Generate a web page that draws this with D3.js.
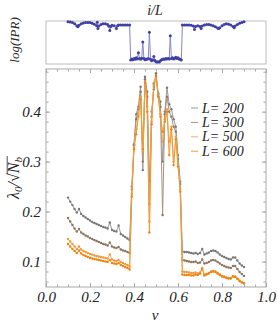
<!DOCTYPE html>
<html>
<head>
<meta charset="utf-8">
<script src="https://cdnjs.cloudflare.com/ajax/libs/d3/7.8.5/d3.min.js"></script>
<style>
  body { margin: 0; background: #fff; }
  svg text { font-family: "Liberation Serif", "DejaVu Serif", serif; font-style: italic; fill: #222; }
</style>
</head>
<body>
<svg width="278" height="326"></svg>
<script>
// filling fraction nu (x values of the main plot)
const nu = [0.10,0.11,0.12,0.13,0.14,0.15,0.16,0.17,0.18,0.19,
            0.20,0.21,0.22,0.23,0.24,0.25,0.26,0.27,0.28,0.29,
            0.30,0.31,0.32,0.33,0.34,0.35,0.36,0.37,0.38,0.39,
            0.40,0.41,0.42,0.43,0.44,0.45,0.46,0.47,0.48,0.49,
            0.50,0.51,0.52,0.53,0.54,0.55,0.56,0.57,0.58,0.59,
            0.60,0.61,0.62,0.63,0.64,0.65,0.66,0.67,0.68,0.69,
            0.70,0.71,0.72,0.73,0.74,0.75,0.76,0.77,0.78,0.79,
            0.80,0.81,0.82,0.83,0.84,0.85,0.86,0.87,0.88,0.89,0.90];

// lambda_0 / sqrt(N_b) for each system size
const lambda200 = [0.228,0.220,0.213,0.205,0.198,0.205,0.195,0.191,0.188,0.185,
                   0.182,0.179,0.177,0.175,0.173,0.171,0.169,0.168,0.166,0.178,
                   0.163,0.161,0.160,0.172,0.155,0.152,0.149,0.146,0.143,0.250,
                   0.335,0.395,0.410,0.450,0.283,0.470,0.440,0.260,0.400,0.445,
                   0.477,0.437,0.420,0.300,0.400,0.448,0.415,0.405,0.385,0.370,
                   0.313,0.260,0.120,0.119,0.119,0.118,0.117,0.116,0.117,0.115,
                   0.117,0.125,0.114,0.116,0.118,0.121,0.122,0.121,0.118,0.114,
                   0.111,0.109,0.107,0.105,0.104,0.108,0.108,0.102,0.096,0.092,0.089];
const lambda300 = [0.187,0.180,0.173,0.166,0.160,0.165,0.158,0.155,0.152,0.150,
                   0.147,0.145,0.143,0.141,0.139,0.137,0.135,0.134,0.132,0.138,
                   0.130,0.128,0.127,0.129,0.124,0.122,0.121,0.119,0.117,0.245,
                   0.333,0.385,0.405,0.440,0.300,0.465,0.430,0.215,0.390,0.450,
                   0.472,0.434,0.410,0.193,0.395,0.430,0.400,0.390,0.370,0.360,
                   0.305,0.255,0.103,0.102,0.101,0.100,0.099,0.099,0.100,0.097,
                   0.098,0.104,0.096,0.097,0.099,0.102,0.103,0.102,0.099,0.096,
                   0.093,0.091,0.089,0.088,0.087,0.091,0.091,0.085,0.079,0.075,0.071];
const lambda500 = [0.145,0.140,0.135,0.130,0.125,0.130,0.124,0.121,0.119,0.117,
                   0.115,0.114,0.112,0.111,0.110,0.109,0.108,0.107,0.106,0.114,
                   0.104,0.102,0.101,0.103,0.099,0.097,0.095,0.093,0.090,0.235,
                   0.328,0.365,0.395,0.430,0.320,0.460,0.410,0.180,0.380,0.455,
                   0.470,0.431,0.395,0.340,0.385,0.405,0.340,0.370,0.300,0.350,
                   0.295,0.245,0.080,0.079,0.079,0.078,0.077,0.077,0.078,0.076,
                   0.078,0.087,0.074,0.075,0.077,0.080,0.081,0.080,0.077,0.074,
                   0.071,0.070,0.068,0.067,0.067,0.071,0.070,0.066,0.062,0.059,0.057];
const lambda600 = [0.135,0.130,0.125,0.121,0.117,0.122,0.116,0.113,0.111,0.109,
                   0.107,0.106,0.105,0.104,0.103,0.102,0.101,0.100,0.099,0.103,
                   0.097,0.096,0.095,0.097,0.093,0.091,0.089,0.087,0.084,0.230,
                   0.325,0.355,0.390,0.425,0.325,0.458,0.400,0.158,0.375,0.457,
                   0.470,0.430,0.390,0.360,0.380,0.400,0.313,0.365,0.293,0.345,
                   0.290,0.240,0.074,0.073,0.073,0.073,0.072,0.072,0.074,0.073,
                   0.076,0.085,0.072,0.074,0.076,0.079,0.080,0.079,0.076,0.073,
                   0.070,0.069,0.067,0.066,0.066,0.070,0.069,0.065,0.061,0.058,0.056];

const seriesNames = ["L= 200", "L= 300", "L= 500", "L= 600"];
const seriesValues = [lambda200, lambda300, lambda500, lambda600];
const lineColors = ["#9a9a9a", "#a8927e", "#f4b169", "#f7982a"];
const dotColors = ["#777777", "#8d7560", "#ef9a40", "#f08410"];

// top panel: log(IPR) against i/L
const topNu = [0.100,0.110,0.120,0.130,0.140,0.145,0.150,0.160,0.170,0.180,
               0.190,0.200,0.210,0.220,0.230,0.233,0.236,0.240,0.250,0.260,
               0.270,0.280,0.285,0.290,0.295,0.300,0.310,0.320,0.325,0.330,
               0.340,0.350,0.360,0.370,0.380,
               0.385,0.390,0.395,0.400,0.405,0.410,0.415,0.420,0.425,0.430,
               0.435,0.440,0.445,0.450,0.455,0.460,0.465,0.470,0.475,0.480,
               0.485,0.490,0.495,0.500,0.505,0.510,0.515,0.520,0.525,0.530,
               0.535,0.540,0.545,0.550,0.555,0.560,0.565,0.570,0.575,0.580,
               0.585,0.590,0.595,0.600,0.605,0.610,0.615,
               0.620,0.630,0.640,0.650,0.660,0.670,0.675,0.680,0.690,0.700,
               0.705,0.710,0.720,0.730,0.740,0.750,0.760,0.770,0.780,0.785,
               0.790,0.800,0.810,0.820,0.830,0.840,0.850,0.855,0.860,0.870,
               0.880,0.890,0.900];
const topLogIPR = [-1.60,-1.62,-1.70,-1.85,-2.10,-2.25,-2.05,-1.85,-1.75,-1.70,
                   -1.68,-1.70,-1.78,-1.90,-2.10,-1.65,-2.45,-2.15,-1.95,-1.85,
                   -1.85,-1.95,-2.15,-2.70,-2.20,-2.05,-2.10,-2.45,-2.10,-2.00,
                   -2.00,-2.00,-2.00,-2.00,-2.00,
                   -6.50,-6.35,-6.45,-6.30,-6.40,-6.20,-6.35,-5.55,-6.30,-6.40,
                   -6.25,-4.20,-6.30,-6.45,-6.35,-6.40,-6.30,-2.95,-6.40,-6.60,
                   -6.50,-6.05,-6.55,-6.70,-6.75,-6.70,-6.75,-6.60,-6.45,-6.40,
                   -6.35,-6.40,-6.30,-6.35,-6.30,-6.35,-3.40,-6.30,-6.20,-6.35,
                   -6.25,-6.15,-6.30,-6.20,-6.35,-6.40,-6.50,
                   -2.00,-2.00,-2.00,-2.00,-2.05,-2.15,-2.60,-2.20,-2.10,-2.20,
                   -2.45,-2.15,-2.00,-1.95,-1.95,-2.00,-2.10,-2.25,-2.40,-2.45,
                   -2.35,-2.10,-1.95,-1.85,-1.90,-2.00,-2.20,-2.35,-2.15,-1.95,
                   -1.80,-1.70,-1.60];

const xTickValues = [0.0, 0.2, 0.4, 0.6, 0.8, 1.0];
const yTickValues = [0.1, 0.2, 0.3, 0.4];

const frameColor = "#a9a9a9";
let svg = d3.select("svg");

// Main plot geometry
let main = {left: 46, right: 266, top: 69, bottom: 287};
let x = d3.scaleLinear().domain([0, 1]).range([main.left, main.right]);
let y = d3.scaleLinear().domain([0.049, 0.4854]).range([main.bottom, main.top]);

// Top panel geometry (shares the x scale)
let topPanel = {top: 21, bottom: 64};
let yTop = d3.scaleLinear().domain([-7, -1.5]).range([topPanel.bottom, topPanel.top]);

// ---- top panel ----
svg.append("rect")
    .attr("x", main.left).attr("y", topPanel.top)
    .attr("width", main.right - main.left).attr("height", topPanel.bottom - topPanel.top)
    .attr("fill", "none").attr("stroke", "#bdbdbd").attr("stroke-width", 1);

let topPoints = topNu.map((d, i) => ({x: d, y: topLogIPR[i]}));

svg.append("path")
    .datum(topPoints)
    .attr("fill", "none")
    .attr("stroke", "#8585cf")
    .attr("stroke-width", 1)
    .attr("d", d3.line().x(d => x(d.x)).y(d => yTop(d.y)));

svg.append("g").selectAll("circle")
    .data(topPoints)
    .enter().append("circle")
    .attr("cx", d => x(d.x))
    .attr("cy", d => yTop(d.y))
    .attr("r", 1.5)
    .attr("fill", "#3f3fa6");

svg.append("text")
    .attr("x", 155).attr("y", 15)
    .attr("text-anchor", "middle")
    .attr("font-size", 14)
    .text("i/L");

svg.append("text")
    .attr("transform", "translate(19,40) rotate(-90)")
    .attr("text-anchor", "middle")
    .attr("font-size", 13)
    .text("log(IPR)");

// ---- main plot frame and ticks ----
function frameAxis(axis, transform, labels) {
  let g = svg.append("g").attr("transform", transform).call(axis);
  g.select(".domain").remove();
  g.selectAll("line").attr("stroke", frameColor);
  g.selectAll("text")
      .attr("font-size", 15)
      .attr("font-family", "Liberation Serif, DejaVu Serif, serif")
      .attr("fill", "#222");
  if (!labels) g.selectAll("text").remove();
  return g;
}

let xMinor = x.ticks(20);
let yMinor = y.ticks(20);

frameAxis(d3.axisBottom(x).tickValues(xTickValues).tickFormat(d3.format(".1f")).tickSize(-4).tickPadding(4),
          "translate(0," + main.bottom + ")", true);
frameAxis(d3.axisBottom(x).tickValues(xMinor).tickSize(-2.5).tickFormat(""),
          "translate(0," + main.bottom + ")", false);
frameAxis(d3.axisTop(x).tickValues(xTickValues).tickSize(-4).tickFormat(""),
          "translate(0," + main.top + ")", false);
frameAxis(d3.axisTop(x).tickValues(xMinor).tickSize(-2.5).tickFormat(""),
          "translate(0," + main.top + ")", false);

frameAxis(d3.axisLeft(y).tickValues(yTickValues).tickFormat(d3.format(".1f")).tickSize(-4).tickPadding(5),
          "translate(" + main.left + ",0)", true);
frameAxis(d3.axisLeft(y).tickValues(yMinor).tickSize(-2.5).tickFormat(""),
          "translate(" + main.left + ",0)", false);
frameAxis(d3.axisRight(y).tickValues(yTickValues).tickSize(-4).tickFormat(""),
          "translate(" + main.right + ",0)", false);
frameAxis(d3.axisRight(y).tickValues(yMinor).tickSize(-2.5).tickFormat(""),
          "translate(" + main.right + ",0)", false);

svg.append("rect")
    .attr("x", main.left).attr("y", main.top)
    .attr("width", main.right - main.left).attr("height", main.bottom - main.top)
    .attr("fill", "none").attr("stroke", frameColor).attr("stroke-width", 1);

// ---- series ----
let valueline = d3.line().x(d => x(d.x)).y(d => y(d.y));

seriesValues.forEach(function(values, k) {
  let pts = nu.map((d, i) => ({x: d, y: values[i]}));
  svg.append("path")
      .datum(pts)
      .attr("fill", "none")
      .attr("stroke", lineColors[k])
      .attr("stroke-width", 1)
      .attr("d", valueline);
  svg.append("g").selectAll("circle")
      .data(pts)
      .enter().append("circle")
      .attr("cx", d => x(d.x))
      .attr("cy", d => y(d.y))
      .attr("r", 1.2)
      .attr("fill", dotColors[k]);
});

// ---- legend ----
let legend = svg.append("g").attr("transform", "translate(191,108)");
seriesNames.forEach(function(name, k) {
  let row = legend.append("g").attr("transform", "translate(0," + (k * 14.4) + ")");
  row.append("line")
      .attr("x1", 0).attr("x2", 7).attr("y1", 0).attr("y2", 0)
      .attr("stroke", lineColors[k]).attr("stroke-width", 1);
  row.append("text")
      .attr("x", 11).attr("y", 4.5)
      .attr("font-size", 14)
      .text(name);
});

// ---- axis labels ----
svg.append("text")
    .attr("x", 155).attr("y", 320)
    .attr("text-anchor", "middle")
    .attr("font-size", 15)
    .text("ν");

let yLab = svg.append("g").attr("transform", "translate(19,178) rotate(-90)");
let yText = yLab.append("text")
    .attr("text-anchor", "middle")
    .attr("font-size", 16);
yText.append("tspan").text("λ");
yText.append("tspan").attr("font-size", 11).attr("dy", 3).text("0");
yText.append("tspan").attr("dy", -3).text("/√");
yText.append("tspan").text("N");
yText.append("tspan").attr("font-size", 11).attr("dy", 3).text("b");

// overline of the square root over N_b, starting from the top of the radical
let node = yText.node();
let n = node.getNumberOfChars();
let rad = node.getExtentOfChar(n - 3);
let last = node.getExtentOfChar(n - 1);
let barY = rad.y + 2.2;
yLab.append("line")
    .attr("x1", rad.x + rad.width - 1).attr("x2", last.x + last.width + 1)
    .attr("y1", barY).attr("y2", barY)
    .attr("stroke", "#222").attr("stroke-width", 0.8);
</script>
</body>
</html>
